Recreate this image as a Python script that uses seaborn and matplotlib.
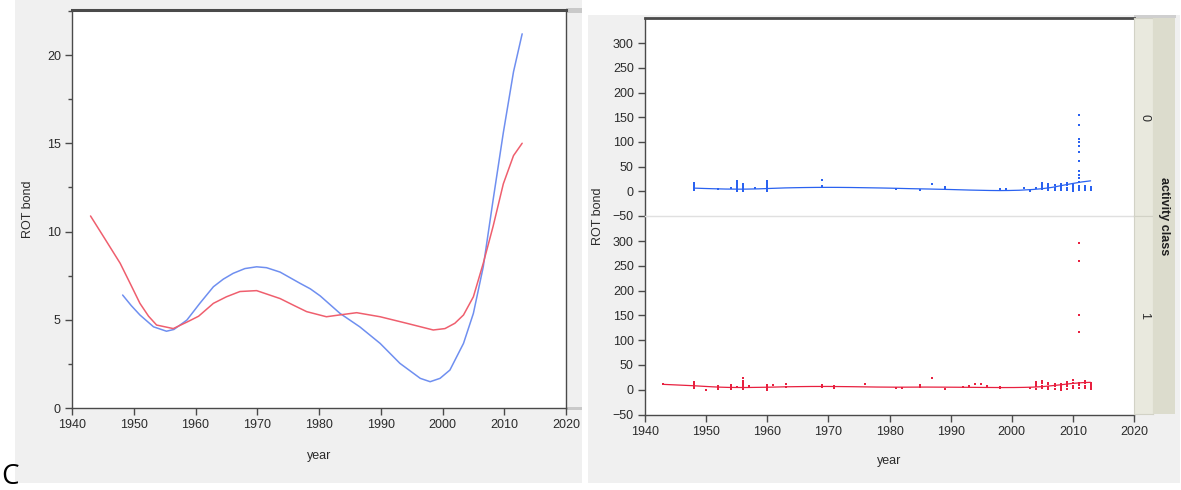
import matplotlib
matplotlib.use("Agg")
import matplotlib.pyplot as plt
from matplotlib.patches import Rectangle
from matplotlib.ticker import MultipleLocator
import numpy as np
import pandas as pd
import seaborn as sns

sns.set_theme(style="ticks")
plt.rcParams['font.family'] = ['Liberation Sans', 'DejaVu Sans']

# ---- spline fits of ROT bond against year, one per activity class ----
spline_years_0 = [1948.2, 1949.6, 1951.0, 1953.2, 1955.3, 1956.5, 1958.6, 1960.7, 1962.9,
                  1964.5, 1966.1, 1968.0, 1969.9, 1971.5, 1973.7, 1976.9, 1978.6, 1980.2,
                  1983.4, 1986.6, 1989.9, 1993.1, 1996.4, 1998.0, 1999.6, 2001.2, 2003.4,
                  2005.0, 2006.6, 2008.2, 2009.85, 2011.5, 2012.9]
spline_rot_0 = [6.4, 5.8, 5.27, 4.6, 4.35, 4.45, 4.98, 5.93, 6.87,
                7.3, 7.63, 7.9, 8.0, 7.95, 7.7, 7.07, 6.75, 6.35,
                5.36, 4.6, 3.66, 2.53, 1.68, 1.49, 1.68, 2.15, 3.66,
                5.36, 8.0, 11.8, 15.6, 19.05, 21.2]

spline_years_1 = [1943.0, 1945.3, 1947.8, 1949.5, 1951.0, 1952.4, 1953.7, 1956.4, 1958.8,
                  1960.5, 1962.9, 1965.0, 1967.2, 1969.9, 1973.7, 1976.0, 1978.0, 1981.2,
                  1983.5, 1986.1, 1989.9, 1994.2, 1998.5, 2000.4, 2002.0, 2003.4, 2005.0,
                  2006.6, 2008.2, 2009.85, 2011.5, 2012.9]
spline_rot_1 = [10.88, 9.6, 8.2, 7.0, 5.93, 5.2, 4.7, 4.5, 4.9,
                5.2, 5.93, 6.3, 6.6, 6.65, 6.2, 5.8, 5.46, 5.17,
                5.28, 5.4, 5.17, 4.8, 4.42, 4.5, 4.8, 5.27, 6.3,
                8.2, 10.3, 12.7, 14.3, 15.0]

# ---- individual compounds: year -> ROT bond values ----
obs_class_0 = {
    1948: [2, 5, 8, 11, 14, 16], 1952: [5], 1954: [6],
    1955: [1, 4, 8, 12, 16, 20], 1956: [1, 5, 9, 13, 15], 1958: [7],
    1960: [1, 4, 8, 12, 16, 20], 1969: [8, 11, 23], 1981: [4], 1985: [2],
    1987: [14], 1989: [5, 8], 1998: [4], 1999: [4], 2002: [6], 2003: [1],
    2004: [7], 2005: [4, 8, 12, 17], 2006: [3, 7, 11, 14], 2007: [3, 7, 12],
    2008: [2, 6, 10, 14], 2009: [3, 7, 12, 17], 2010: [0, 4, 8, 13],
    2011: [3, 6, 11, 18, 26, 33, 42, 62, 80, 92, 99, 105, 134, 154],
    2012: [2, 6, 10], 2013: [2, 5, 8],
}
obs_class_1 = {
    1943: [11], 1948: [3, 6, 9, 12, 15], 1950: [0], 1952: [2, 5, 8],
    1954: [2, 6, 10], 1955: [5], 1956: [2, 6, 10, 14, 18, 23], 1957: [8],
    1960: [0, 3, 6, 10], 1961: [10], 1963: [6, 12], 1969: [5, 9],
    1971: [4, 8], 1976: [12], 1981: [4], 1982: [4], 1985: [6, 10],
    1987: [23], 1989: [2], 1992: [6], 1993: [8], 1994: [12], 1995: [12],
    1996: [8], 1998: [4, 6], 2003: [3], 2004: [2, 7, 12, 15],
    2005: [3, 8, 13, 18], 2006: [2, 6, 11, 14], 2007: [2, 7, 12],
    2008: [0, 4, 8, 12], 2009: [2, 7, 12, 15], 2010: [3, 8, 13, 19],
    2011: [4, 9, 14, 117, 152, 260, 296], 2012: [3, 8, 13, 17],
    2013: [2, 6, 10, 13],
}

x_ticks = [1940, 1950, 1960, 1970, 1980, 1990, 2000, 2010, 2020]
left_y_ticks = [0, 5, 10, 15, 20]
right_y_ticks = [-50, 0, 50, 100, 150, 200, 250, 300]

spline_df = pd.concat([
    pd.DataFrame({"year": spline_years_0, "rot": spline_rot_0, "cls": "0"}),
    pd.DataFrame({"year": spline_years_1, "rot": spline_rot_1, "cls": "1"}),
], ignore_index=True)


def expand(obs, cls):
    rows = [(yr, v, cls) for yr, vals in obs.items() for v in vals]
    return pd.DataFrame(rows, columns=["year", "rot", "cls"])


obs_df = pd.concat([expand(obs_class_0, "0"), expand(obs_class_1, "1")],
                   ignore_index=True)

# ---- figure in pixel geometry ----
W, H = 1181, 490
fig = plt.figure(figsize=(W / 100, H / 100), dpi=100)
fig.patch.set_facecolor("white")


def box(x0, y0, x1, y1):
    return [x0 / W, 1 - y1 / H, (x1 - x0) / W, (y1 - y0) / H]


def rect(x0, y0, x1, y1, color):
    fig.patches.append(Rectangle((x0 / W, 1 - y1 / H), (x1 - x0) / W, (y1 - y0) / H,
                                 transform=fig.transFigure, facecolor=color,
                                 edgecolor="none", zorder=-5))


# panel backgrounds
rect(15, 0, 582, 483, "#f0f0f0")
rect(566, 8, 582, 13, "#c9c9c9")
rect(566, 407, 582, 410, "#c9c9c9")
rect(588, 15, 1180, 483, "#f0f0f0")
rect(1134, 15, 1176, 18, "#cfcfcf")

dark = "#4a4a4a"
tick_kw = dict(direction="out", length=5, width=1, color=dark,
               labelsize=9, labelcolor="#2b2b2b", pad=3)

blue_l, red_l = "#6f8ff0", "#ef5f6e"
blue_r, red_r = "#2a62f0", "#e8203f"

# ---- left panel: spline fits ----
axL = fig.add_axes(box(72, 10, 566, 408))
axL.set_facecolor("white")
sns.lineplot(data=spline_df, x="year", y="rot", hue="cls",
             palette={"0": blue_l, "1": red_l}, estimator=None, sort=False,
             linewidth=1.1, legend=False, ax=axL)
axL.set_xlim(1940, 2020)
axL.set_ylim(0, 22.55)
axL.set_xticks(x_ticks)
axL.set_yticks(left_y_ticks)
axL.yaxis.set_minor_locator(MultipleLocator(2.5))
axL.tick_params(axis="both", which="major", **tick_kw)
axL.tick_params(axis="y", which="minor", direction="out", length=3, width=1, color=dark)
for s in ["left", "bottom", "right"]:
    axL.spines[s].set_color(dark)
    axL.spines[s].set_linewidth(1.0)
axL.spines["top"].set_color(dark)
axL.spines["top"].set_linewidth(2.2)
axL.set_xlabel("year", fontsize=9, color="#2b2b2b")
axL.set_ylabel("ROT bond", fontsize=9, color="#2b2b2b")
axL.xaxis.set_label_coords(0.5, -0.105)
axL.yaxis.set_label_coords(-0.076, 0.5)

fig.text(1 / W, 1 - 484 / H, "C", fontsize=20, color="black", va="baseline",
         family=["Open Sans", "DejaVu Sans"])

# ---- right panel: observations faceted by activity class ----
axT = fig.add_axes(box(645, 18, 1134, 216))
axB = fig.add_axes(box(645, 216, 1134, 414.5), sharex=axT)

for ax, cls, col in [(axT, "0", blue_r), (axB, "1", red_r)]:
    ax.set_facecolor("white")
    sub_obs = obs_df[obs_df["cls"] == cls]
    sub_fit = spline_df[spline_df["cls"] == cls]
    sns.scatterplot(data=sub_obs, x="year", y="rot", color=col, marker="s",
                    s=4, linewidth=0, legend=False, ax=ax, zorder=3)
    sns.lineplot(data=sub_fit, x="year", y="rot", color=col, estimator=None,
                 sort=False, linewidth=0.9, legend=False, ax=ax)
    ax.set_ylim(-50, 351)
    ax.set_yticks(right_y_ticks)
    ax.tick_params(axis="both", which="major", **tick_kw)
    ax.spines["left"].set_color(dark)
    ax.spines["left"].set_linewidth(1.0)
    ax.spines["right"].set_visible(False)
    ax.set_xlabel("")
    ax.set_ylabel("")

axT.set_xlim(1940, 2020)
axT.set_xticks(x_ticks)
axT.tick_params(axis="x", bottom=False, labelbottom=False)
axT.spines["top"].set_color(dark)
axT.spines["top"].set_linewidth(2.0)
axT.spines["bottom"].set_visible(False)
axB.spines["top"].set_color("#e0e0e0")
axB.spines["top"].set_linewidth(1.0)
axB.spines["bottom"].set_color(dark)
axB.spines["bottom"].set_linewidth(1.0)

axB.set_xlabel("year", fontsize=9, color="#2b2b2b")
axB.xaxis.set_label_coords(0.5, -0.205)
axB.set_ylabel("ROT bond", fontsize=9, color="#2b2b2b")
axB.yaxis.set_label_coords((604 - 645) / 489, 1.0)

# facet strips
for (y0, y1, label) in [(18, 216, "0"), (216, 414, "1")]:
    sax = fig.add_axes(box(1134, y0, 1153, y1))
    sax.set_facecolor("#e9e9de")
    sax.set_xticks([])
    sax.set_yticks([])
    for s in sax.spines.values():
        s.set_color("#d2d2c6")
        s.set_linewidth(0.8)
    sax.text(0.55, 0.5, label, rotation=-90, ha="center", va="center",
             fontsize=9, color="#2b2b2b", transform=sax.transAxes)

oax = fig.add_axes(box(1153, 18, 1175, 414))
oax.set_facecolor("#dcdccd")
oax.set_xticks([])
oax.set_yticks([])
for s in oax.spines.values():
    s.set_visible(False)
oax.text(0.5, 0.5, "activity class", rotation=-90, ha="center", va="center",
         fontsize=9, fontweight="bold", color="#1e1e1e", transform=oax.transAxes)

fig.savefig("out.png", dpi=100)
